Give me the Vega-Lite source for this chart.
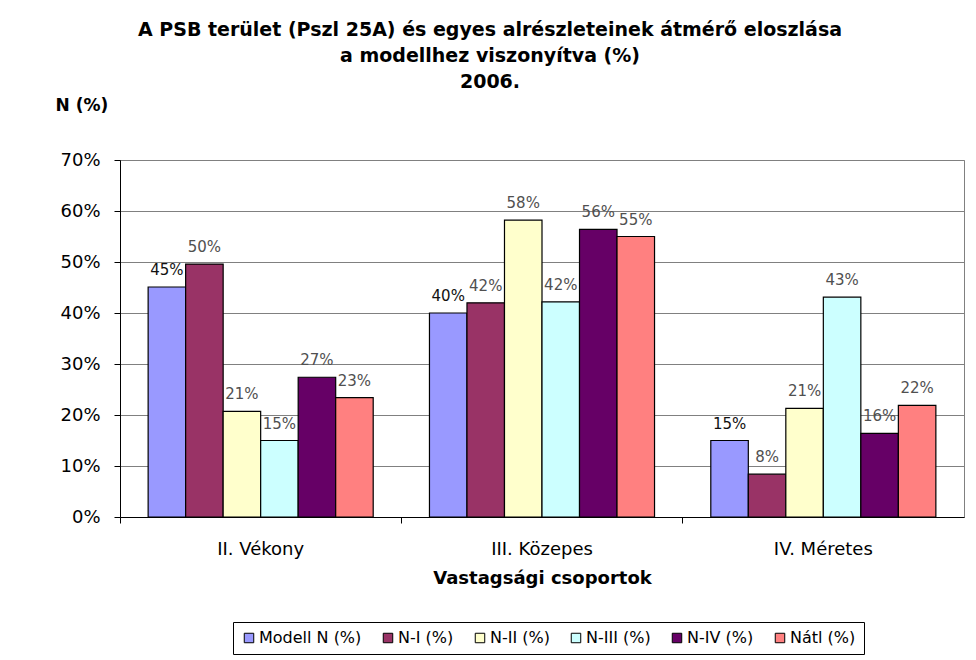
{
  "$schema": "https://vega.github.io/schema/vega-lite/v6.json",
  "width": 844,
  "height": 357,
  "autosize": {"type": "none"},
  "padding": {"left": 120, "top": 160, "right": 12, "bottom": 143},
  "background": "white",
  "config": {
    "font": "DejaVu Sans",
    "view": {"stroke": "#808080", "strokeWidth": 1}
  },
  "title": {
    "text": ["A PSB terület (Pszl 25A) és egyes alrészleteinek átmérő eloszlása", "a modellhez viszonyítva (%)", "2006."],
    "font": "DejaVu Sans",
    "fontSize": 19,
    "fontWeight": "bold",
    "color": "black",
    "anchor": "middle",
    "frame": "group",
    "dx": -52,
    "lineHeight": 26,
    "offset": 4
  },
  "data": {
    "values": [
      {"cat": "II. Vékony", "series": "Modell N (%)", "value": 0.451},
      {"cat": "II. Vékony", "series": "N-I (%)", "value": 0.496},
      {"cat": "II. Vékony", "series": "N-II (%)", "value": 0.207},
      {"cat": "II. Vékony", "series": "N-III (%)", "value": 0.150},
      {"cat": "II. Vékony", "series": "N-IV (%)", "value": 0.274},
      {"cat": "II. Vékony", "series": "Nátl (%)", "value": 0.234},
      {"cat": "III. Közepes", "series": "Modell N (%)", "value": 0.400},
      {"cat": "III. Közepes", "series": "N-I (%)", "value": 0.420},
      {"cat": "III. Közepes", "series": "N-II (%)", "value": 0.582},
      {"cat": "III. Közepes", "series": "N-III (%)", "value": 0.422},
      {"cat": "III. Közepes", "series": "N-IV (%)", "value": 0.564},
      {"cat": "III. Közepes", "series": "Nátl (%)", "value": 0.550},
      {"cat": "IV. Méretes", "series": "Modell N (%)", "value": 0.150},
      {"cat": "IV. Méretes", "series": "N-I (%)", "value": 0.084},
      {"cat": "IV. Méretes", "series": "N-II (%)", "value": 0.213},
      {"cat": "IV. Méretes", "series": "N-III (%)", "value": 0.431},
      {"cat": "IV. Méretes", "series": "N-IV (%)", "value": 0.164},
      {"cat": "IV. Méretes", "series": "Nátl (%)", "value": 0.219}
    ]
  },
  "encoding": {
    "x": {
      "field": "cat",
      "type": "nominal",
      "sort": null,
      "scale": {"paddingInner": 0, "paddingOuter": 0},
      "axis": {
        "title": "Vastagsági csoportok",
        "titleFontSize": 18,
        "titleFontWeight": "bold",
        "titleColor": "black",
        "titlePadding": 11,
        "labelAngle": 0,
        "labelFontSize": 18,
        "labelColor": "black",
        "labelPadding": 17,
        "bandPosition": 0,
        "tickSize": 6,
        "tickColor": "black",
        "domainColor": "black",
        "grid": false
      }
    },
    "xOffset": {
      "field": "series",
      "type": "nominal",
      "sort": null,
      "scale": {"paddingInner": 0, "paddingOuter": 0.75}
    },
    "y": {
      "field": "value",
      "type": "quantitative",
      "scale": {"domain": [0, 0.7], "nice": false},
      "axis": {
        "format": ".0%",
        "values": [0, 0.1, 0.2, 0.3, 0.4, 0.5, 0.6, 0.7],
        "title": "N (%)",
        "titleAngle": 0,
        "titleAlign": "left",
        "titleBaseline": "middle",
        "titleX": -65,
        "titleY": -55,
        "titleFontSize": 17,
        "titleFontWeight": "bold",
        "titleColor": "black",
        "labelFontSize": 18,
        "labelColor": "black",
        "labelPadding": 14,
        "tickSize": 6,
        "tickColor": "black",
        "domainColor": "black",
        "gridColor": "#808080",
        "gridOpacity": 1
      }
    }
  },
  "layer": [
    {
      "mark": {"type": "bar", "stroke": "black", "strokeWidth": 1.2, "opacity": 1},
      "encoding": {
        "color": {
          "field": "series",
          "type": "nominal",
          "sort": null,
          "scale": {
            "domain": ["Modell N (%)", "N-I (%)", "N-II (%)", "N-III (%)", "N-IV (%)", "Nátl (%)"],
            "range": ["#9999FF", "#993366", "#FFFFCC", "#CCFFFF", "#660066", "#FF8080"]
          },
          "legend": {
            "title": null,
            "orient": "none",
            "legendX": 113,
            "legendY": 462,
            "direction": "horizontal",
            "strokeColor": "black",
            "fillColor": "white",
            "padding": 8,
            "symbolType": "square",
            "symbolSize": 90,
            "symbolStrokeColor": "black",
            "symbolStrokeWidth": 1,
            "symbolOpacity": 1,
            "labelFontSize": 16,
            "labelColor": "black",
            "labelOffset": 2,
            "columnPadding": 18
          }
        }
      }
    },
    {
      "mark": {"type": "text", "baseline": "bottom", "dy": -9, "fontSize": 15},
      "encoding": {
        "text": {"field": "value", "type": "quantitative", "format": ".0%"},
        "color": {
          "condition": {"test": "datum.series === 'Modell N (%)'", "value": "#111111"},
          "value": "#505050"
        },
        "fontWeight": {
          "condition": {"test": "datum.series === 'Modell N (%)'", "value": "bold"},
          "value": "normal"
        }
      }
    }
  ]
}
